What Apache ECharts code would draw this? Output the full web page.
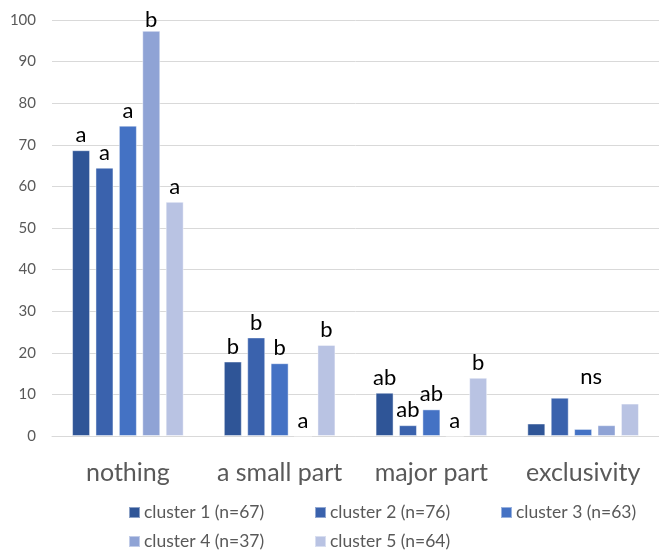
<!DOCTYPE html>
<html><head><meta charset="utf-8">
<script src="https://cdn.jsdelivr.net/npm/echarts@6/dist/echarts.min.js"></script>
<style>html,body{margin:0;padding:0;background:#fff}#c{width:659px;height:551px}</style>
</head><body><div id="c"></div>
<script>
const categories = ['nothing', 'a small part', 'major part', 'exclusivity'];
const seriesNames = ['cluster 1 (n=67)', 'cluster 2 (n=76)', 'cluster 3 (n=63)', 'cluster 4 (n=37)', 'cluster 5 (n=64)'];
const cluster1 = [68.7, 17.9, 10.4, 3.0];
const cluster2 = [64.5, 23.7, 2.6, 9.2];
const cluster3 = [74.6, 17.5, 6.4, 1.7];
const cluster4 = [97.4, 0, 0, 2.6];
const cluster5 = [56.3, 21.9, 14.0, 7.8];
const letters1 = ['a', 'b', 'ab', ''];
const letters2 = ['a', 'b', 'ab', ''];
const letters3 = ['a', 'b', 'ab', 'ns'];
const letters4 = ['b', 'a', 'a', ''];
const letters5 = ['a', 'b', 'b', ''];
const yTicks = [0, 10, 20, 30, 40, 50, 60, 70, 80, 90, 100];

const colors = ['#2F5597', '#3A62AD', '#4472C4', '#8FA3D5', '#B9C3E3'];
const values = [cluster1, cluster2, cluster3, cluster4, cluster5];
const letters = [letters1, letters2, letters3, letters4, letters5];
const FONT = 'Lato';

const chart = echarts.init(document.getElementById('c'), null, {renderer: 'canvas'});
const series = values.map((vals, si) => ({
  name: seriesNames[si],
  type: 'bar',
  barWidth: 18,
  barGap: '30%',
  itemStyle: {color: colors[si], borderColor: 'rgba(255,255,255,0.45)', borderWidth: 1},
  data: vals.map((v, ci) => {
    const lab = letters[si][ci];
    const d = {value: v};
    const base = {show: true, position: 'top', formatter: lab, fontSize: 22, color: '#000', fontFamily: FONT};
    if (lab === 'ns') {
      d.label = Object.assign({}, base, {distance: 5, offset: [8, -36]});
    } else if (lab) {
      d.label = Object.assign({}, base, {distance: v > 90 ? 0 : 4});
    }
    return d;
  })
}));

chart.setOption({
  animation: false,
  textStyle: {fontFamily: FONT},
  grid: {left: 52, right: -2, top: 20, bottom: 115, containLabel: false},
  xAxis: {
    type: 'category', data: categories,
    axisLine: {show: true, lineStyle: {color: '#D9D9D9', width: 1}},
    axisTick: {show: false},
    axisLabel: {interval: 0, fontSize: 25, color: '#595959', margin: 24, fontFamily: FONT}
  },
  yAxis: {
    type: 'value', min: yTicks[0], max: yTicks[yTicks.length - 1], interval: 10,
    axisLine: {show: false}, axisTick: {show: false},
    splitLine: {lineStyle: {color: '#D9D9D9', width: 1}},
    axisLabel: {fontSize: 15, color: '#595959', margin: 16, fontFamily: FONT}
  },
  legend: {
    left: 128, top: 503, width: 560, padding: 0,
    itemWidth: 11, itemHeight: 11, itemGap: 10,
    icon: 'rect',
    textStyle: {fontSize: 17.5, color: '#595959', width: 160, overflow: 'none', fontFamily: FONT, lineHeight: 19, padding: [0, 0, 0, -1]},
    data: seriesNames
  },
  series: series
});
</script></body></html>
